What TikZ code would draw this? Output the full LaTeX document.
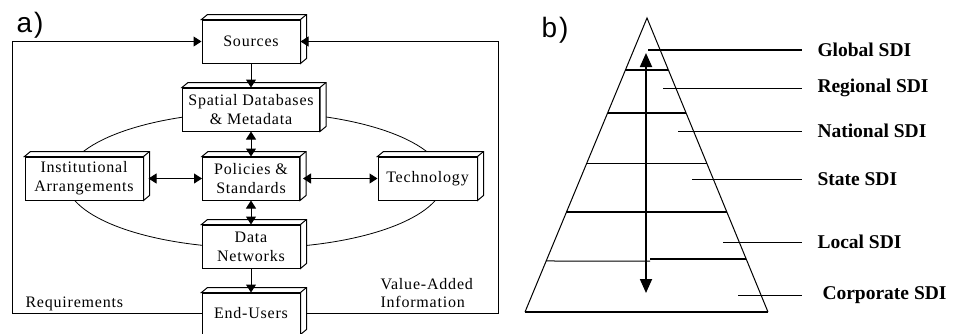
\documentclass[tikz,border=0pt]{standalone}
\usepackage{fontspec}
\setmainfont{Liberation Serif}
\newfontfamily\boxfont[LetterSpace=5]{Liberation Serif}
\newfontfamily\panelfont{Liberation Sans}
\usetikzlibrary{arrows.meta,calc}
\newcommand\cubefaces[1]{%
  \filldraw[fill=white] (#1.north west) -- ++(6,-5) -- ($(#1.north east)+(6,-5)$)
    -- ($(#1.south east)+(6,-5)$) -- (#1.south east) -- (#1.north east) -- cycle;
  \draw (#1.north east) -- ++(6,-5);}
\begin{document}
\begin{tikzpicture}[x=1pt,y=-1pt,line width=1pt,
  tri/.tip={Triangle[length=8pt,width=10pt]},
  bigtri/.tip={Triangle[length=14pt,width=12pt]},
  box/.style={draw,fill=white,inner sep=0pt,align=center,minimum height=43pt,
    font=\boxfont\fontsize{16}{19}\selectfont},
  txt/.style={inner sep=0pt,anchor=base west,font=\boxfont\fontsize{16}{19}\selectfont},
  lbl/.style={inner sep=0pt,anchor=west,font=\bfseries\fontsize{19.5}{22}\selectfont},
  panel/.style={inner sep=0pt,anchor=base west,font=\panelfont\fontsize{28}{28}\selectfont}]
\useasboundingbox[fill=white] (0,0) rectangle (954,333);

% ---------- panel a ----------
\node[panel] (la) at (16,32) {a\kern2pt)};
\draw[line width=0.8pt] (255,180) ellipse [x radius=189pt, y radius=68pt];

\node[box,minimum width=98pt] (src) at (251,41.5) {Sources};
\node[box,minimum width=137pt] (sdb) at (251,109.5) {Spatial Databases\\\& Metadata};
\node[box,minimum width=118pt] (inst) at (84,178.5) {Institutional\\Arrangements};
\node[box,minimum width=97pt] (pol) at (251,178.5) {Policies \&\\Standards};
\node[box,minimum width=99pt] (tech) at (427.5,178.5) {Technology};
\node[box,minimum width=98pt] (dnet) at (251,246.5) {Data\\Networks};
\node[box,minimum width=98pt,minimum height=41pt] (eu) at (251,313.5) {End-Users};
\foreach \n in {src,sdb,inst,pol,tech,dnet,eu} {\cubefaces{\n}}

\draw[-tri] (src.south) -- (sdb.north);
\draw[tri-tri] (sdb.south) -- (pol.north);
\draw[tri-tri] (pol.south) -- (dnet.north);
\draw[-tri] (dnet.south) -- (eu.north);
\draw[tri-tri,shorten <=5pt] (inst.east) -- (pol.west);
\draw[tri-tri,shorten <=3pt] (pol.east) -- (tech.west);

\coordinate (lc) at (12,313.5);
\coordinate (rc) at (498,313.5);
\draw[-tri] (eu.west) -- (lc) |- (src.west);
\draw[-tri,shorten <=6pt] (eu.east) -- (rc) |- (src.east);

\node[txt] (req) at (25,307) {Requirements};
\node[txt] (va) at (380,289) {Value-Added};
\node[txt] (info) at (380,307) {Information};

% ---------- panel b ----------
\node[panel] (lb) at (541,37) {b\kern2pt)};
\coordinate (apex) at (647,18);
\coordinate (bl) at (525,312);
\coordinate (br) at (768,312);
\draw (bl) -- (apex) -- (br);
\draw[line width=1.6pt] (bl) -- (br);
\draw[line width=1.8pt] ($(apex)!0.1769!(bl)$) -- ($(apex)!0.1769!(br)$);
\draw[line width=1.5pt] ($(apex)!0.3231!(bl)$) -- ($(apex)!0.3231!(br)$);
\draw[line width=1pt] ($(apex)!0.4932!(bl)$) -- ($(apex)!0.4932!(br)$);
\draw[line width=1.4pt] ($(apex)!0.6599!(bl)$) -- ($(apex)!0.6599!(br)$);
\draw[line width=1pt] ($(apex)!0.8265!(bl)$) -- (650,261);
\draw[line width=1.6pt] (650,259) -- ($(apex)!0.8197!(br)$);

\coordinate (atop) at (646,53);
\coordinate (abot) at (646,293);
\draw[line width=1.8pt,bigtri-bigtri] (atop) -- (abot);

\node[lbl] (glob) at (817,50) {Global SDI};
\node[lbl] (reg) at (817,88) {Regional SDI};
\node[lbl] (nat) at (817,131) {National SDI};
\node[lbl] (sta) at (817,179) {State SDI};
\node[lbl] (loc) at (817,242) {Local SDI};
\node[lbl] (cor) at (822,295) {Corporate SDI};
\coordinate (g0) at (648,50);
\coordinate (r0) at (663,88);
\coordinate (n0) at (678,131);
\coordinate (s0) at (692,179);
\coordinate (l0) at (723,242);
\coordinate (c0) at (738,295);
\draw[line width=2pt,shorten >=15pt] (g0) -- (glob.west);
\draw[shorten >=15pt] (r0) -- (reg.west);
\draw[shorten >=15pt] (n0) -- (nat.west);
\draw[shorten >=15pt] (s0) -- (sta.west);
\draw[shorten >=15pt] (l0) -- (loc.west);
\draw[shorten >=20pt] (c0) -- (cor.west);
\end{tikzpicture}
\end{document}
